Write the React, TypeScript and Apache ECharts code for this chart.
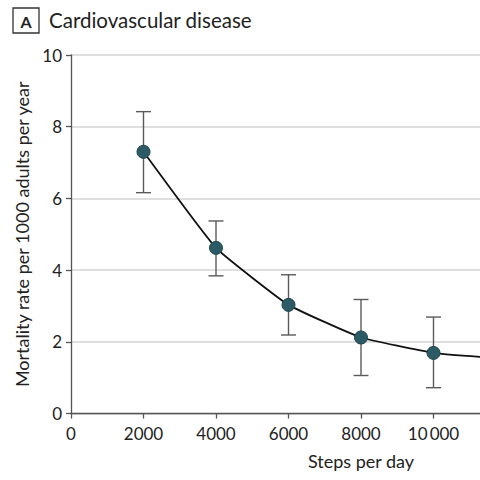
import React, { useEffect, useRef } from "react";
import * as echarts from "echarts";

const steps = [2000, 4000, 6000, 8000, 10000];
const rate = [7.3, 4.62, 3.03, 2.12, 1.69];
const lower = [6.16, 3.84, 2.19, 1.06, 0.72];
const upper = [8.42, 5.37, 3.87, 3.18, 2.69];
// curve continues past the last estimate (cut by the right edge)
const curveSteps = [...steps, 11400];
const curveRate = [...rate, 1.57];
const yTicks = [0, 2, 4, 6, 8, 10];
const lastShownStep = 10000;
const panelLetter = "A";
const panelTitle = "Cardiovascular disease";
const xName = "Steps per day";
const yName = "Mortality rate per 1000 adults per year";

const FONT = "Lato";

export default function App() {
  const ref = useRef<HTMLDivElement>(null);
  useEffect(() => {
    document.body.style.margin = "0";
    const chart = echarts.init(ref.current!, null, { renderer: "svg" });
    chart.setOption({
      animation: false,
      backgroundColor: "#ffffff",
      textStyle: { fontFamily: FONT },
      grid: { left: 71, top: 55, width: 580, height: 358.5, outerBoundsMode: "none", containLabel: false },
      xAxis: {
        type: "value",
        min: 0,
        max: 16000,
        interval: 2000,
        name: xName,
        nameLocation: "middle",
        nameGap: 38,
        nameTextStyle: { fontSize: 18, color: "#222", fontFamily: FONT },
        axisLine: { show: true, lineStyle: { color: "#555", width: 1.3 } },
        axisTick: { show: true, length: 5, lineStyle: { color: "#555", width: 1.3 } },
        axisLabel: {
          fontSize: 17,
          color: "#222",
          margin: 11,
          formatter: (v: number) =>
            v > lastShownStep
              ? ""
              : v >= 10000
              ? String(v).replace(/(\d{2})(\d{3})$/, "$1\u2009$2")
              : String(v),
        },
        splitLine: { show: false },
      },
      yAxis: {
        type: "value",
        min: yTicks[0],
        max: yTicks[yTicks.length - 1],
        interval: 2,
        name: yName,
        nameLocation: "middle",
        nameGap: 40,
        nameTextStyle: { fontSize: 18, color: "#222", fontFamily: FONT },
        axisLine: { show: true, lineStyle: { color: "#555", width: 1.3 } },
        axisTick: { show: true, length: 5, lineStyle: { color: "#555", width: 1.3 } },
        axisLabel: { fontSize: 17, color: "#222", margin: 9 },
        splitLine: { show: true, lineStyle: { color: "#d4d4d4", width: 1.5 } },
      },
      graphic: [
        {
          type: "rect",
          shape: { x: 13, y: 8, width: 26, height: 25 },
          style: { fill: "#fff", stroke: "#333", lineWidth: 1.3 },
        },
        {
          type: "text",
          x: 26,
          y: 21,
          style: {
            text: panelLetter,
            fontFamily: FONT,
            fontWeight: "bold",
            fontSize: 16,
            fill: "#222",
            align: "center",
            verticalAlign: "middle",
          },
        },
        {
          type: "text",
          x: 49,
          y: 20,
          style: {
            text: panelTitle,
            fontFamily: FONT,
            fontSize: 20.5,
            fill: "#222",
            align: "left",
            verticalAlign: "middle",
          },
        },
      ],
      series: [
        {
          type: "custom",
          z: 2,
          data: steps.map((s, i) => [s, lower[i], upper[i]]),
          renderItem: (params: any, api: any) => {
            const lo = api.coord([api.value(0), api.value(1)]);
            const hi = api.coord([api.value(0), api.value(2)]);
            const hw = 7.5;
            const style = { stroke: "#5a5a5a", lineWidth: 1.4 };
            return {
              type: "group",
              children: [
                { type: "line", shape: { x1: lo[0], y1: lo[1], x2: hi[0], y2: hi[1] }, style },
                { type: "line", shape: { x1: hi[0] - hw, y1: hi[1], x2: hi[0] + hw, y2: hi[1] }, style },
                { type: "line", shape: { x1: lo[0] - hw, y1: lo[1], x2: lo[0] + hw, y2: lo[1] }, style },
              ],
            };
          },
        },
        {
          type: "line",
          z: 3,
          data: curveSteps.map((s, i) => [s, curveRate[i]]),
          smooth: 0.12,
          showSymbol: false,
          symbol: "none",
          lineStyle: { color: "#111", width: 1.8 },
        },
        {
          type: "scatter",
          z: 4,
          data: steps.map((s, i) => [s, rate[i]]),
          symbol: "circle",
          symbolSize: 13,
          itemStyle: { color: "#2c5b66", borderColor: "#1f4650", borderWidth: 1, opacity: 1 },
        },
      ],
    });
    return () => chart.dispose();
  }, []);
  return <div ref={ref} style={{ width: 480, height: 480 }} />;
}
